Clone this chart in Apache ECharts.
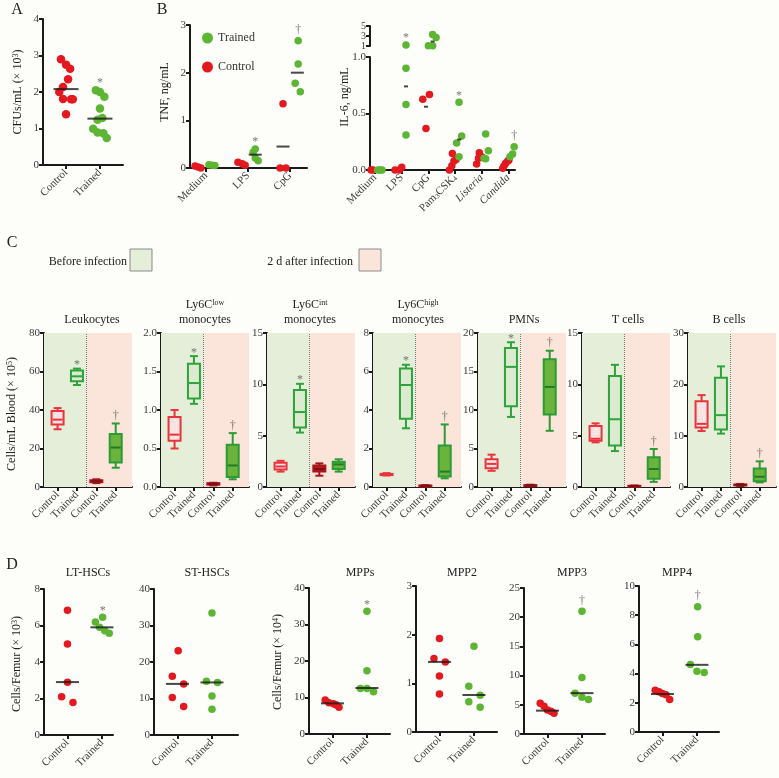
<!DOCTYPE html>
<html><head><meta charset="utf-8">
<script src="https://cdn.jsdelivr.net/npm/echarts@6/dist/echarts.min.js"></script>
<style>html,body{margin:0;padding:0;background:#fdfdf9;}#c{width:779px;height:778px;}</style>
</head><body><div id="c"></div>
<script>
// ================= DATA =================
// Panel A
const aCats = ['Control', 'Trained'];
const aTicks = [0, 1, 2, 3, 4];
const aControl = [2.9, 2.75, 2.64, 2.35, 2.14, 2.0, 1.81, 1.8, 1.8, 1.39];
const aControlJit = [-0.15, 0, 0.12, 0.06, -0.09, -0.2, -0.09, 0.15, 0.2, 0];
const aTrained = [2.05, 2.0, 1.87, 1.55, 1.29, 1.24, 0.99, 0.89, 0.87, 0.74];
const aTrainedJit = [-0.12, 0, 0.13, 0, 0.07, -0.07, -0.2, -0.07, 0.1, 0.2];
const aMedians = [2.08, 1.27];
const aSig = ['', '*'];

// Panel B - TNF
const tnfCats = ['Medium', 'LPS', 'CpG'];
const tnfTicks = [0, 1, 2, 3];
const tnfControl = [[0.04, 0.02, 0.0], [0.12, 0.09, 0.06], [0, 0, 1.35]];
const tnfControlJit = [[-0.26, -0.19, -0.12], [-0.24, -0.14, -0.07], [-0.24, -0.1, -0.17]];
const tnfTrained = [[0.07, 0.06, 0.05], [0.4, 0.33, 0.21, 0.15], [2.67, 2.18, 1.78, 1.6]];
const tnfTrainedJit = [[0.07, 0.14, 0.21], [0.17, 0.12, 0.17, 0.24], [0.19, 0.19, 0.12, 0.24]];
const tnfControlMedian = [null, null, 0.45];
const tnfTrainedMedian = [null, 0.28, 2.0];
const tnfSig = ['', '*', '†'];

// Panel B - IL-6 (broken axis: 0-1 lower, 1-5 upper)
const il6Cats = ['Medium', 'LPS', 'CpG', 'Pam3CSK4', 'Listeria', 'Candida'];
const il6LowTicks = [0, 0.5, 1.0];
const il6HighTicks = [1, 3, 5];
const il6Control = [[0, 0, 0], [0, 0, 0.024], [0.626, 0.668, 0.368], [0, 0.038, 0.08, 0.094, 0.147], [0.053, 0.103, 0.153, 0.118], [0.015, 0.038, 0.06, 0.08, 0.088]];
const il6ControlJit = [[-0.22, -0.15, -0.08], [-0.25, -0.09, 0], [-0.21, 0.04, -0.09], [-0.21, -0.12, -0.04, 0.04, -0.1], [-0.19, -0.12, -0.09, 0], [-0.21, -0.16, -0.1, -0.02, 0.02]];
const il6Trained = [[0, 0, 0], [1.2, 0.9, 0.58, 0.31], [3.3, 2.7, 1.05, 1.05], [0.6, 0.3, 0.24, 0.118], [0.318, 0.171, 0.103, 0.1], [0.206, 0.141, 0.118]];
const il6TrainedJit = [[0.1, 0.18, 0.26], [0.16, 0.16, 0.16, 0.16], [0.16, 0.29, 0, 0.16], [0.15, 0.25, 0.06, 0.15], [0.15, 0.25, 0.09, 0.15], [0.22, 0.16, 0.06]];
const il6ControlMedian = [null, null, 0.56, null, null, null];
const il6TrainedMedian = [null, 0.74, 1.9, 0.27, null, null];
const il6Sig = ['', '*', '', '*', '', '†'];

// Panel C - box plots [min, q1, median, q3, max]
const cCats = ['Control', 'Trained', 'Control', 'Trained'];
const leukTicks = [0, 20, 40, 60, 80];
const leukocytes = [[30, 32.5, 35, 39.5, 41], [53, 55, 57.5, 60.5, 61.5], [2, 2.5, 3, 3.5, 4], [10, 12.7, 20.5, 27.5, 33]];
const leukSig = ['', '*', '', '†'];
const lowTicks = [0, 0.5, 1.0, 1.5, 2.0];
const ly6cLow = [[0.5, 0.6, 0.68, 0.91, 1.0], [1.08, 1.15, 1.35, 1.6, 1.7], [0.02, 0.03, 0.04, 0.05, 0.055], [0.1, 0.13, 0.28, 0.55, 0.7]];
const ly6cLowSig = ['', '*', '', '†'];
const intTicks = [0, 5, 10, 15];
const ly6cInt = [[1.5, 1.7, 2.0, 2.35, 2.55], [5.3, 5.8, 7.3, 9.45, 10.05], [1.1, 1.5, 1.75, 2.1, 2.3], [1.5, 1.75, 2.2, 2.45, 2.7]];
const ly6cIntSig = ['', '*', '', ''];
const highTicks = [0, 2, 4, 6, 8];
const ly6cHigh = [[0.6, 0.62, 0.65, 0.68, 0.72], [3.05, 3.55, 5.3, 6.15, 6.35], [0.02, 0.04, 0.06, 0.08, 0.1], [0.45, 0.55, 0.8, 2.15, 3.25]];
const ly6cHighSig = ['', '*', '', '†'];
const pmnTicks = [0, 5, 10, 15, 20];
const pmns = [[2.1, 2.45, 3.0, 3.6, 4.2], [9.1, 10.5, 15.6, 18.05, 18.8], [0.1, 0.15, 0.2, 0.25, 0.3], [7.3, 9.4, 13.0, 16.6, 17.7]];
const pmnSig = ['', '*', '', '†'];
const tTicks = [0, 5, 10, 15];
const tCells = [[4.35, 4.5, 4.7, 5.95, 6.2], [3.5, 4.05, 6.6, 10.8, 11.9], [0.05, 0.08, 0.1, 0.12, 0.15], [0.5, 0.8, 1.75, 2.9, 3.7]];
const tSig = ['', '', '', '†'];
const bTicks = [0, 10, 20, 30];
const bCells = [[10.9, 11.6, 12.3, 16.7, 17.9], [10.4, 11.2, 14.0, 21.3, 23.5], [0.2, 0.3, 0.4, 0.5, 0.6], [0.9, 1.1, 2.0, 3.6, 5.0]];
const bSig = ['', '', '', '†'];

// Panel D
const dCats = ['Control', 'Trained'];
const ltTicks = [0, 2, 4, 6, 8];
const ltControl = [6.83, 4.98, 2.89, 2.1, 1.78];
const ltControlJit = [0, 0, 0, -0.17, 0.16];
const ltTrained = [6.45, 6.19, 5.9, 5.71, 5.57];
const ltTrainedJit = [0.02, -0.19, -0.07, 0.08, 0.21];
const ltMedians = [2.9, 5.9];
const ltSig = ['', '*'];
const stTicks = [0, 10, 20, 30, 40];
const stControl = [23.07, 16.1, 14.0, 10.25, 7.78];
const stControlJit = [0.02, -0.15, 0.18, -0.15, 0.18];
const stTrained = [33.4, 14.7, 14.4, 10.7, 7.05];
const stTrainedJit = [0, -0.16, 0.16, 0, 0];
const stMedians = [14.0, 14.4];
const stSig = ['', ''];
const mppsTicks = [0, 10, 20, 30, 40];
const mppsControl = [9.3, 8.56, 8.3, 8.0, 7.3];
const mppsControlJit = [-0.21, -0.1, 0.03, 0.1, 0.19];
const mppsTrained = [33.6, 17.3, 12.5, 12.5, 11.6];
const mppsTrainedJit = [0, 0, -0.19, 0, 0.19];
const mppsMedians = [8.4, 12.6];
const mppsSig = ['', '*'];
const mpp2Ticks = [0, 1, 2, 3];
const mpp2Control = [1.92, 1.51, 1.44, 1.15, 0.78];
const mpp2ControlJit = [0, -0.16, 0.17, 0, 0];
const mpp2Trained = [1.76, 0.94, 0.755, 0.62, 0.51];
const mpp2TrainedJit = [0, -0.15, 0.18, -0.15, 0.18];
const mpp2Medians = [1.44, 0.76];
const mpp2Sig = ['', ''];
const mpp3Ticks = [0, 5, 10, 15, 20, 25];
const mpp3Control = [5.26, 4.75, 4.12, 3.9, 3.55];
const mpp3ControlJit = [-0.21, -0.1, 0, 0.1, 0.19];
const mpp3Trained = [21, 9.67, 6.98, 6.29, 5.9];
const mpp3TrainedJit = [0, 0, -0.2, 0, 0.19];
const mpp3Medians = [4.0, 7.0];
const mpp3Sig = ['', '†'];
const mpp4Ticks = [0, 2, 4, 6, 8, 10];
const mpp4Control = [2.86, 2.75, 2.63, 2.55, 2.22];
const mpp4ControlJit = [-0.21, -0.1, 0, 0.1, 0.21];
const mpp4Trained = [8.58, 6.52, 4.62, 4.16, 4.07];
const mpp4TrainedJit = [0.02, 0.02, -0.19, 0, 0.21];
const mpp4Medians = [2.6, 4.6];
const mpp4Sig = ['', '†'];

// ================= STYLE / HELPERS =================
const F = "'Liberation Serif', 'Times New Roman', serif";
const RED = '#e3191f', GREEN = '#5db633', INK = '#1a1a1a', LBL = '#3a3a3a', SIGC = '#555';
const boxStyles = [
  {stroke: '#e8343c', fill: '#fce3e3', median: '#e8343c'},
  {stroke: '#2ea33a', fill: '#dcebcf', median: '#2ea33a'},
  {stroke: '#a3161c', fill: '#c0181f', median: '#7d0f13'},
  {stroke: '#2c9a36', fill: '#6ab43c', median: '#23782a'}
];
const grids = [], xAxes = [], yAxes = [], series = [], graphics = [];

function addGrid(g, xa, ya) {
  const gi = grids.length;
  grids.push(Object.assign({containLabel: false, outerBoundsMode: 'none'}, g));
  xAxes.push(Object.assign({gridIndex: gi}, xa));
  yAxes.push(Object.assign({gridIndex: gi}, ya));
  return gi;
}
function xAx(min, max, cats, opts) {
  opts = opts || {};
  const idx = cats.map((_, i) => i);
  const show = opts.hide !== true;
  const fmt = opts.fmt || (c => c);
  return {type: 'value', min: min, max: max,
    axisLine: {show: show, onZero: false, lineStyle: {color: INK, width: 2}},
    axisTick: {show: show, customValues: idx, length: 4, lineStyle: {color: INK, width: 2}},
    axisLabel: {show: show, customValues: idx, rotate: 45, margin: 6, fontFamily: F, fontSize: 11, color: LBL,
      formatter: v => fmt(cats[Math.round(v)]), rich: opts.rich},
    splitLine: {show: false}};
}
function yAx(ticks, opts) {
  opts = opts || {};
  const a = {type: 'value', min: ticks[0], max: ticks[ticks.length - 1],
    axisLine: {show: true, onZero: false, lineStyle: {color: INK, width: 2}},
    axisTick: {show: true, length: 4, lineStyle: {color: INK, width: 2}},
    axisLabel: {fontFamily: F, fontSize: opts.size || 11, color: LBL, margin: 4, showMinLabel: true, showMaxLabel: true},
    splitLine: {show: false}};
  if (opts.fmt) a.axisLabel.formatter = opts.fmt;
  if (opts.custom) { a.axisTick.customValues = ticks; a.axisLabel.customValues = ticks; }
  else a.interval = ticks[1] - ticks[0];
  return a;
}
function spread(values, jit, base) { return values.map((v, k) => [base + jit[k], v]); }
function dots(gi, name, color, size, pts) {
  series.push({type: 'scatter', name: name, xAxisIndex: gi, yAxisIndex: gi, symbolSize: size,
    itemStyle: {color: color, opacity: 1}, emphasis: {disabled: true}, z: 3, data: pts});
}
function medians(gi, w, pts) {
  series.push({type: 'scatter', xAxisIndex: gi, yAxisIndex: gi, symbol: 'rect', symbolSize: [w, 2],
    itemStyle: {color: INK}, emphasis: {disabled: true}, z: 4, silent: true, data: pts.filter(p => p[1] != null)});
}
function sigs(gi, size, pts) {
  pts = pts.filter(p => p[2]);
  if (!pts.length) return;
  series.push({type: 'scatter', xAxisIndex: gi, yAxisIndex: gi, symbolSize: size, silent: true, z: 5,
    itemStyle: {color: 'rgba(0,0,0,0)'},
    label: {show: true, position: 'top', distance: 1, fontFamily: F, fontSize: 12, color: SIGC},
    data: pts.map(p => ({value: [p[0], p[1]], label: {formatter: p[2], offset: [0, p[2] === '*' ? 4 : 0]}}))});
}
function maxPoint(values, jit, base) {
  let k = 0; values.forEach((v, i) => { if (v > values[k]) k = i; });
  return [base + jit[k], values[k]];
}
function txt(x, y, text, o) {
  o = o || {};
  graphics.push({type: 'text', x: x, y: y, rotation: o.rot || 0, silent: true,
    style: {text: text, fontFamily: F, fontSize: o.size || 12, fill: o.color || '#222', fontStyle: o.italic ? 'italic' : 'normal',
      align: o.align || 'center', verticalAlign: 'middle',
      rich: {s: {fontFamily: F, fontSize: 8, fill: o.color || '#222', verticalAlign: 'top', lineHeight: 9}}}});
}

// ================= PANEL A =================
{
  const gi = addGrid({left: 43, top: 19, width: 80, height: 146}, xAx(-0.68, 1.68, aCats), yAx(aTicks));
  dots(gi, 'Control', RED, 8.5, spread(aControl, aControlJit, 0));
  dots(gi, 'Trained', GREEN, 8.5, spread(aTrained, aTrainedJit, 1));
  medians(gi, 25, aMedians.map((m, i) => [i, m]));
  sigs(gi, 8.5, [[1, Math.max(...aTrained), aSig[1]], [0, Math.max(...aControl), aSig[0]]]);
  txt(17, 10, 'A', {size: 16});
  txt(18, 92, 'CFUs/mL (× 10{s|3})', {rot: Math.PI / 2});
}

// ================= PANEL B TNF =================
{
  const gi = addGrid({left: 190, top: 25, width: 117, height: 143}, xAx(-0.38, 2.4, tnfCats), yAx(tnfTicks));
  const rc = [], gc = [], sp = [];
  tnfCats.forEach((c, i) => {
    rc.push(...spread(tnfControl[i], tnfControlJit[i], i));
    gc.push(...spread(tnfTrained[i], tnfTrainedJit[i], i));
    const mp = maxPoint(tnfTrained[i], tnfTrainedJit[i], i);
    sp.push([mp[0], mp[1], tnfSig[i]]);
  });
  dots(gi, 'Control', RED, 7.5, rc);
  dots(gi, 'Trained', GREEN, 7.5, gc);
  medians(gi, 13, tnfControlMedian.map((m, i) => [i - 0.17, m]).concat(tnfTrainedMedian.map((m, i) => [i + 0.17, m])));
  sigs(gi, 7.5, sp);
  txt(162, 10, 'B', {size: 16});
  txt(165, 92, 'TNF, ng/mL', {rot: Math.PI / 2});
}

// ================= PANEL B IL-6 =================
{
  const il6Rich = {
    n: {fontFamily: F, fontSize: 11, color: LBL},
    b: {fontFamily: F, fontSize: 7, color: LBL, verticalAlign: 'bottom'},
    i: {fontFamily: F, fontSize: 11, color: LBL, fontStyle: 'italic'}
  };
  const il6Fmt = c => c === 'Pam3CSK4' ? '{n|Pam}{b|3}{n|CSK}{b|4}' : (c === 'Listeria' || c === 'Candida') ? '{i|' + c + '}' : '{n|' + c + '}';
  const lo = addGrid({left: 370, top: 57, width: 145, height: 113}, xAx(-0.19, 5.25, il6Cats, {fmt: il6Fmt, rich: il6Rich}),
    yAx(il6LowTicks, {fmt: v => v.toFixed(1)}));
  const hi = addGrid({left: 370, top: 26, width: 145, height: 20}, xAx(-0.19, 5.25, il6Cats, {hide: true}),
    yAx(il6HighTicks, {custom: true, size: 10}));
  const rcL = [], rcH = [], gcL = [], gcH = [], spL = [], spH = [];
  il6Cats.forEach((c, i) => {
    spread(il6Control[i], il6ControlJit[i], i).forEach(p => (p[1] > 1 ? rcH : rcL).push(p));
    spread(il6Trained[i], il6TrainedJit[i], i).forEach(p => (p[1] > 1 ? gcH : gcL).push(p));
    const mp = maxPoint(il6Trained[i], il6TrainedJit[i], i);
    (mp[1] > 1 ? spH : spL).push([mp[0], mp[1], il6Sig[i]]);
  });
  dots(lo, 'Control', RED, 7.5, rcL); dots(lo, 'Trained', GREEN, 7.5, gcL);
  dots(hi, 'Control', RED, 7.5, rcH); dots(hi, 'Trained', GREEN, 7.5, gcH);
  const medPts = il6ControlMedian.map((m, i) => [i - 0.09, m]).concat(il6TrainedMedian.map((m, i) => [i + 0.16, m]));
  medians(lo, 4, medPts.filter(p => p[1] != null && p[1] <= 1));
  medians(hi, 4, medPts.filter(p => p[1] != null && p[1] > 1));
  sigs(lo, 7.5, spL); sigs(hi, 7.5, spH);
  txt(345, 97, 'IL-6, ng/mL', {rot: Math.PI / 2});
}

// Legend for B
const legend = {data: ['Trained', 'Control'], orient: 'vertical', left: 197, top: 27, itemWidth: 11, itemHeight: 11, itemGap: 17,
  icon: 'circle', selectedMode: false, textStyle: {fontFamily: F, fontSize: 12, color: '#333'}};

// ================= PANEL C =================
const cPanels = [
  {data: leukocytes, ticks: leukTicks, sig: leukSig, left: 44, t1: 'Leukocytes', tx: 92},
  {data: ly6cLow, ticks: lowTicks, sig: ly6cLowSig, left: 161, t0: 'Ly6C{s|low}', t1: 'monocytes', tx: 205, dec: true},
  {data: ly6cInt, ticks: intTicks, sig: ly6cIntSig, left: 267, t0: 'Ly6C{s|int}', t1: 'monocytes', tx: 310},
  {data: ly6cHigh, ticks: highTicks, sig: ly6cHighSig, left: 373, t0: 'Ly6C{s|high}', t1: 'monocytes', tx: 418},
  {data: pmns, ticks: pmnTicks, sig: pmnSig, left: 478, t1: 'PMNs', tx: 524},
  {data: tCells, ticks: tTicks, sig: tSig, left: 582, t1: 'T cells', tx: 628},
  {data: bCells, ticks: bTicks, sig: bSig, left: 688, t1: 'B cells', tx: 729}
];
cPanels.forEach(p => {
  const xmin = -0.7, xmax = 3.84;
  const top = p.ticks[p.ticks.length - 1];
  const gi = addGrid({left: p.left, top: 333, width: 88, height: 154}, xAx(xmin, xmax, cCats),
    yAx(p.ticks, p.dec ? {fmt: v => v.toFixed(1)} : {}));
  series.push({type: 'scatter', xAxisIndex: gi, yAxisIndex: gi, data: [], z: 1, silent: true,
    markArea: {silent: true, data: [
      [{xAxis: xmin, yAxis: 0, itemStyle: {color: '#e4eed9'}}, {xAxis: 1.5, yAxis: top}],
      [{xAxis: 1.5, yAxis: 0, itemStyle: {color: '#fbe5da'}}, {xAxis: xmax, yAxis: top}]
    ]},
    markLine: {silent: true, symbol: ['none', 'none'], label: {show: false},
      lineStyle: {type: 'dotted', color: '#777', width: 1}, data: [{xAxis: 1.5}]}});
  series.push({type: 'custom', xAxisIndex: gi, yAxisIndex: gi, z: 3, silent: true,
    data: p.data.map((b, i) => [i].concat(b)),
    renderItem: (params, api) => {
      const i = api.value(0);
      const st = boxStyles[i];
      const c = [1, 2, 3, 4, 5].map(k => api.coord([i, api.value(k)]));
      const cx = c[0][0], hw = 6, cw = 4;
      const ls = {stroke: st.stroke, lineWidth: 2};
      return {type: 'group', children: [
        {type: 'line', shape: {x1: cx, y1: c[4][1], x2: cx, y2: c[3][1]}, style: ls},
        {type: 'line', shape: {x1: cx, y1: c[1][1], x2: cx, y2: c[0][1]}, style: ls},
        {type: 'line', shape: {x1: cx - cw, y1: c[4][1], x2: cx + cw, y2: c[4][1]}, style: ls},
        {type: 'line', shape: {x1: cx - cw, y1: c[0][1], x2: cx + cw, y2: c[0][1]}, style: ls},
        {type: 'rect', shape: {x: cx - hw, y: c[3][1], width: 2 * hw, height: Math.max(1, c[1][1] - c[3][1])},
          style: {fill: st.fill, stroke: st.stroke, lineWidth: 2}},
        {type: 'line', shape: {x1: cx - hw + 1, y1: c[2][1], x2: cx + hw - 1, y2: c[2][1]}, style: {stroke: st.median, lineWidth: 2}}
      ]};
    }});
  sigs(gi, 1, p.data.map((b, i) => [i, b[4], p.sig[i]]));
  if (p.t0) txt(p.tx, 305, p.t0);
  txt(p.tx, 320, p.t1);
});
txt(12, 243, 'C', {size: 16});
txt(12, 414, 'Cells/mL Blood (× 10{s|5})', {rot: Math.PI / 2});
txt(127, 262, 'Before infection', {align: 'right'});
txt(353, 262, '2 d after infection', {align: 'right'});
graphics.push({type: 'rect', shape: {x: 130, y: 249, width: 22, height: 22}, style: {fill: '#e4eed9', stroke: '#8a8a8a', lineWidth: 1}});
graphics.push({type: 'rect', shape: {x: 359, y: 249, width: 22, height: 22}, style: {fill: '#fbe5da', stroke: '#8a8a8a', lineWidth: 1}});

// ================= PANEL D =================
const dPanels = [
  {c: ltControl, cj: ltControlJit, t: ltTrained, tj: ltTrainedJit, m: ltMedians, s: ltSig, ticks: ltTicks, left: 44, top: 589, width: 69, title: 'LT-HSCs', tx: 88},
  {c: stControl, cj: stControlJit, t: stTrained, tj: stTrainedJit, m: stMedians, s: stSig, ticks: stTicks, left: 154, top: 589, width: 84, title: 'ST-HSCs', tx: 207},
  {c: mppsControl, cj: mppsControlJit, t: mppsTrained, tj: mppsTrainedJit, m: mppsMedians, s: mppsSig, ticks: mppsTicks, left: 309, top: 588, width: 81, title: 'MPPs', tx: 360},
  {c: mpp2Control, cj: mpp2ControlJit, t: mpp2Trained, tj: mpp2TrainedJit, m: mpp2Medians, s: mpp2Sig, ticks: mpp2Ticks, left: 416, top: 586, width: 81, title: 'MPP2', tx: 462},
  {c: mpp3Control, cj: mpp3ControlJit, t: mpp3Trained, tj: mpp3TrainedJit, m: mpp3Medians, s: mpp3Sig, ticks: mpp3Ticks, left: 524, top: 588, width: 81, title: 'MPP3', tx: 572},
  {c: mpp4Control, cj: mpp4ControlJit, t: mpp4Trained, tj: mpp4TrainedJit, m: mpp4Medians, s: mpp4Sig, ticks: mpp4Ticks, left: 639, top: 586, width: 80, title: 'MPP4', tx: 677}
];
dPanels.forEach(p => {
  const xmin = -0.68, xmax = p.width / 34.5 - 0.68;
  const gi = addGrid({left: p.left, top: p.top, width: p.width, height: 146}, xAx(xmin, xmax, dCats), yAx(p.ticks));
  dots(gi, 'Control', RED, 7.5, spread(p.c, p.cj, 0));
  dots(gi, 'Trained', GREEN, 7.5, spread(p.t, p.tj, 1));
  medians(gi, 23, p.m.map((v, i) => [i, v]));
  const mc = maxPoint(p.c, p.cj, 0), mt = maxPoint(p.t, p.tj, 1);
  sigs(gi, 7.5, [[mc[0], mc[1], p.s[0]], [mt[0], mt[1], p.s[1]]]);
  txt(p.tx, 573, p.title);
});
txt(12, 565, 'D', {size: 16});
txt(17, 664, 'Cells/Femur (× 10{s|3})', {rot: Math.PI / 2});
txt(278, 662, 'Cells/Femur (× 10{s|4})', {rot: Math.PI / 2});

// ================= CHART =================
const chart = echarts.init(document.getElementById('c'), null, {renderer: 'canvas'});
chart.setOption({
  backgroundColor: '#fdfdf9',
  animation: false,
  textStyle: {fontFamily: F},
  legend: legend,
  grid: grids, xAxis: xAxes, yAxis: yAxes, series: series,
  graphic: {elements: graphics}
});
</script></body></html>
